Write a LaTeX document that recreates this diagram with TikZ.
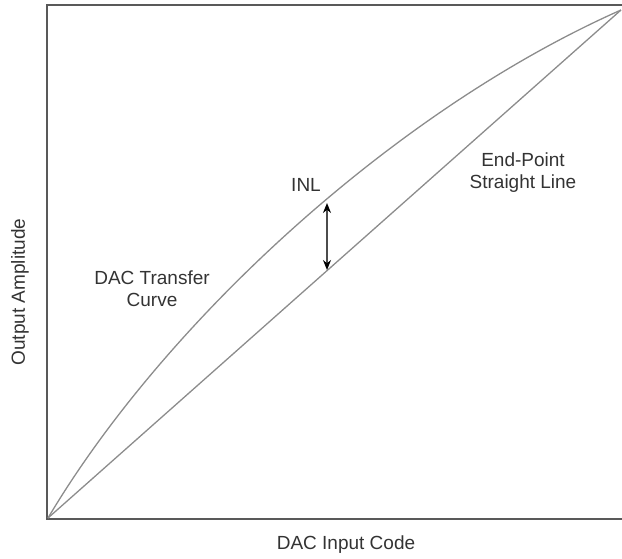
\documentclass[tikz,border=0pt]{standalone}
\usepackage{fontspec}
\setmainfont{Liberation Sans}
\usetikzlibrary{arrows.meta}
\begin{document}
\begin{tikzpicture}[x=1pt,y=-1pt,
  frame/.style={draw=black!65,line width=1.8pt},
  trace/.style={draw=black!45,line width=1.3pt},
  lbl/.style={font=\fontsize{19}{22}\selectfont,text=black!80,align=center,inner sep=0pt},
  gap/.style={draw=black!70,line width=1.4pt,{Stealth[length=10pt,width=8pt,black]}-{Stealth[length=10pt,width=8pt,black]}}]
\useasboundingbox (0,0) rectangle (622,558);
% axes frame, open on the right
\coordinate (o) at (47,519);
\coordinate (tl) at (47,5);
\coordinate (tr) at (622,5);
\coordinate (br) at (622,519);
\draw[frame] (tr) -- (tl) -- (o) -- (br);
% end points of both characteristics
\coordinate (p0) at (48,518);
\coordinate (p1) at (621,10);
% ideal end-point straight line
\draw[trace] (p0) -- (p1);
% actual DAC transfer curve
\draw[trace] (p0) .. controls (162.6,325) and (391.8,111.6) .. (p1);
% INL markers
\coordinate (c) at (327,203);
\coordinate (s) at (327,270);
\draw[gap] (c) -- (s);
% labels
\node[lbl] (inl) at (306,185) {INL};
\node[lbl] (dtc) at (152,289) {DAC Transfer\\Curve};
\node[lbl] (eps) at (523,173) {End-Point\\Straight Line};
\node[lbl] (xl) at (346,545) {DAC Input Code};
\node[lbl,rotate=90] (yl) at (20,292) {Output Amplitude};
\end{tikzpicture}
\end{document}
